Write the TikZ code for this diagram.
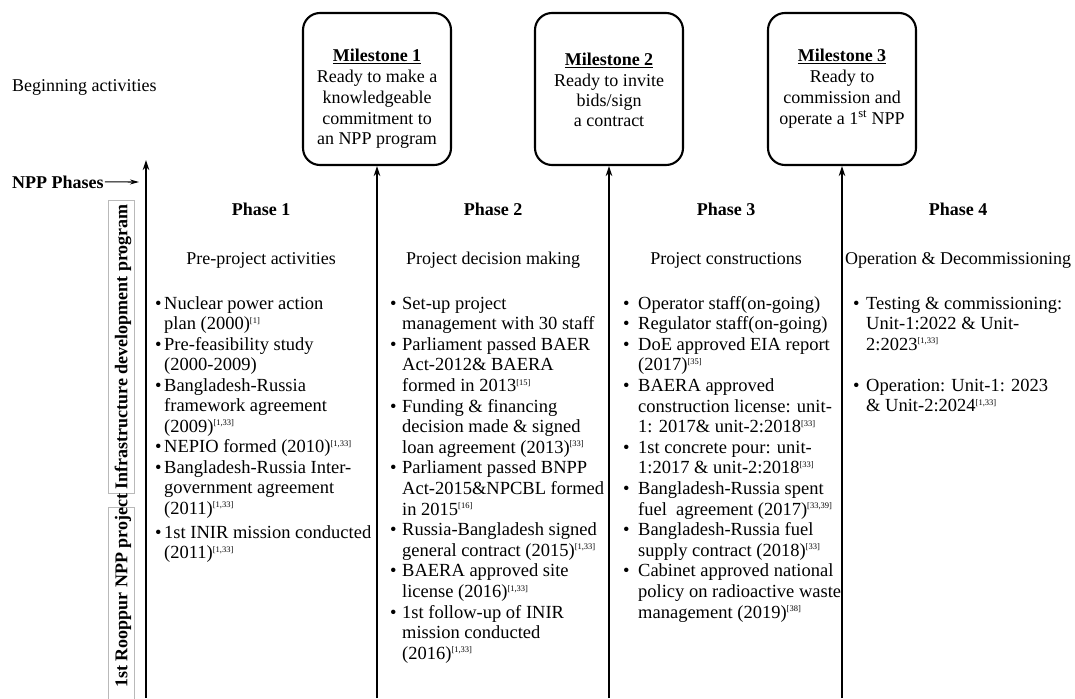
\documentclass[tikz,border=0pt]{standalone}
\usepackage{fontspec}
\setmainfont{Liberation Serif}
\usetikzlibrary{arrows.meta}
\newlength{\bw}
\newcommand{\bi}[1]{\hbox{\makebox[\bw][l]{\textbullet}#1}}
\newcommand{\ci}[1]{\hbox{\hspace*{\bw}#1}}
\newcommand{\cl}[1]{\hbox to\hsize{\hss#1\hss}}
\newcommand{\rf}[1]{\textsuperscript{\fontsize{8.5}{8.5}\selectfont[#1]}}
\begin{document}
\begin{tikzpicture}[x=1pt,y=-1pt,
  conn/.style={line width=1.3pt,-{Stealth[length=10pt,width=6.5pt]}},
  mile/.style={draw,line width=2.1pt,rounded corners=17pt,minimum width=148pt,minimum height=152pt,inner sep=0pt},
  mtext/.style={anchor=base,inner sep=0pt,font=\fontsize{18}{20.7}\selectfont},
  hd/.style={anchor=base,inner sep=0pt,font=\fontsize{18}{20}\selectfont},
  list/.style={anchor=base west,inner sep=0pt,font=\fontsize{18.5}{20.5}\selectfont},
  gbox/.style={draw=gray!55,line width=0.9pt,minimum width=26pt,inner sep=0pt}]
\useasboundingbox (0,0) rectangle (1075,698);

% left labels
\node[anchor=base west,inner sep=0pt,font=\fontsize{18}{20}\selectfont] (beg) at (12,92) {Beginning activities};
\node[anchor=base west,inner sep=0pt,font=\bfseries\fontsize{18}{20}\selectfont] (npp) at (12,188) {NPP Phases};
\coordinate (nppe) at (139,182);
\draw[line width=1.1pt,-{Stealth[length=9pt,width=5pt]}] (npp.east) ++(1,0) -- (nppe);

% vertical program boxes
\node[gbox,minimum height=293pt] (g1) at (121,346.5) {};
\node[gbox,minimum height=200pt] (g2) at (121,607) {};
\node[rotate=90,inner sep=0pt,font=\bfseries\fontsize{18}{20}\selectfont] (vt) at (123,446) {1st Rooppur NPP project Infrastructure development program};

% milestones
\node[mile] (m1) at (377,89) {};
\node[mile] (m2) at (609,89) {};
\node[mile] (m3) at (842,89) {};
\node[mtext] (t1) at (377,62) {\vtop{\hsize=146pt\baselineskip=20.7pt
  \cl{\underline{\textbf{Milestone 1}}}\cl{Ready to make a}\cl{knowledgeable}\cl{commitment to}\cl{an NPP program}}};
\node[mtext] (t2) at (609,66) {\vtop{\hsize=146pt\baselineskip=20.2pt
  \cl{\underline{\textbf{Milestone 2}}}\cl{Ready to invite}\cl{bids/sign}\cl{a contract}}};
\node[mtext] (t3) at (842,62) {\vtop{\hsize=146pt\baselineskip=20.7pt
  \cl{\underline{\textbf{Milestone 3}}}\cl{Ready to}\cl{commission and}\cl{operate a 1\textsuperscript{st} NPP}}};

% axis and dividers
\coordinate (a0) at (146,698);
\coordinate (a1) at (146,160);
\draw[conn] (a0) -- (a1);
\coordinate (d1) at (377,698);
\coordinate (d2) at (609,698);
\coordinate (d3) at (842,698);
\draw[conn] (d1) -- (m1.south);
\draw[conn] (d2) -- (m2.south);
\draw[conn] (d3) -- (m3.south);

% phase headings
\node[hd] (p1) at (261,215) {\textbf{Phase 1}};
\node[hd] (p2) at (493,215) {\textbf{Phase 2}};
\node[hd] (p3) at (726,215) {\textbf{Phase 3}};
\node[hd] (p4) at (958,215) {\textbf{Phase 4}};
\node[hd] (s1) at (261,264) {Pre-project activities};
\node[hd] (s2) at (493,264) {Project decision making};
\node[hd] (s3) at (726,264) {Project constructions};
\node[hd] (s4) at (958,264) {Operation \& Decommissioning};

% lists
\node[list] (l1) at (155,309) {\setlength{\bw}{9pt}\vtop{\baselineskip=20.5pt
  \bi{Nuclear power action}
  \ci{plan (2000)\rf{1}}
  \bi{Pre-feasibility study}
  \ci{(2000-2009)}
  \bi{Bangladesh-Russia}
  \ci{framework agreement}
  \ci{(2009)\rf{1,33}}
  \bi{NEPIO formed (2010)\rf{1,33}}
  \bi{Bangladesh-Russia Inter-}
  \ci{government agreement}
  \ci{(2011)\rf{1,33}}
  \vskip 3.5pt
  \bi{1st INIR mission conducted}
  \ci{(2011)\rf{1,33}}}};

\node[list] (l2) at (390,309) {\setlength{\bw}{12pt}\vtop{\baselineskip=20.6pt
  \bi{Set-up project}
  \ci{management with 30 staff}
  \bi{Parliament passed BAER}
  \ci{Act-2012\& BAERA}
  \ci{formed in 2013\rf{15}}
  \bi{Funding \& financing}
  \ci{decision made \& signed}
  \ci{loan agreement (2013)\rf{33}}
  \bi{Parliament passed BNPP}
  \ci{Act-2015\&NPCBL formed}
  \ci{in 2015\rf{16}}
  \bi{Russia-Bangladesh signed}
  \ci{general contract (2015)\rf{1,33}}
  \bi{BAERA approved site}
  \ci{license (2016)\rf{1,33}}
  \bi{1st follow-up of INIR}
  \ci{mission conducted}
  \ci{(2016)\rf{1,33}}}};

\node[list] (l3) at (623,309) {\setlength{\bw}{15pt}\vtop{\baselineskip=20.6pt
  \bi{Operator staff(on-going)}
  \bi{Regulator staff(on-going)}
  \bi{DoE approved EIA report}
  \ci{(2017)\rf{35}}
  \bi{BAERA approved}
  \ci{construction license: unit-}
  \ci{1: 2017\& unit-2:2018\rf{33}}
  \bi{1st concrete pour: unit-}
  \ci{1:2017 \& unit-2:2018\rf{33}}
  \bi{Bangladesh-Russia spent}
  \ci{fuel\ \ agreement (2017)\rf{33,39}}
  \bi{Bangladesh-Russia fuel}
  \ci{supply contract (2018)\rf{33}}
  \bi{Cabinet approved national}
  \ci{policy on radioactive waste}
  \ci{management (2019)\rf{38}}}};

\node[list] (l4) at (853,309) {\setlength{\bw}{13pt}\vtop{\baselineskip=20.5pt
  \bi{Testing \& commissioning:}
  \ci{Unit-1:2022 \& Unit-}
  \ci{2:2023\rf{1,33}}
  \vskip 20.5pt
  \bi{Operation: Unit-1: 2023}
  \ci{\& Unit-2:2024\rf{1,33}}}};
\end{tikzpicture}
\end{document}
